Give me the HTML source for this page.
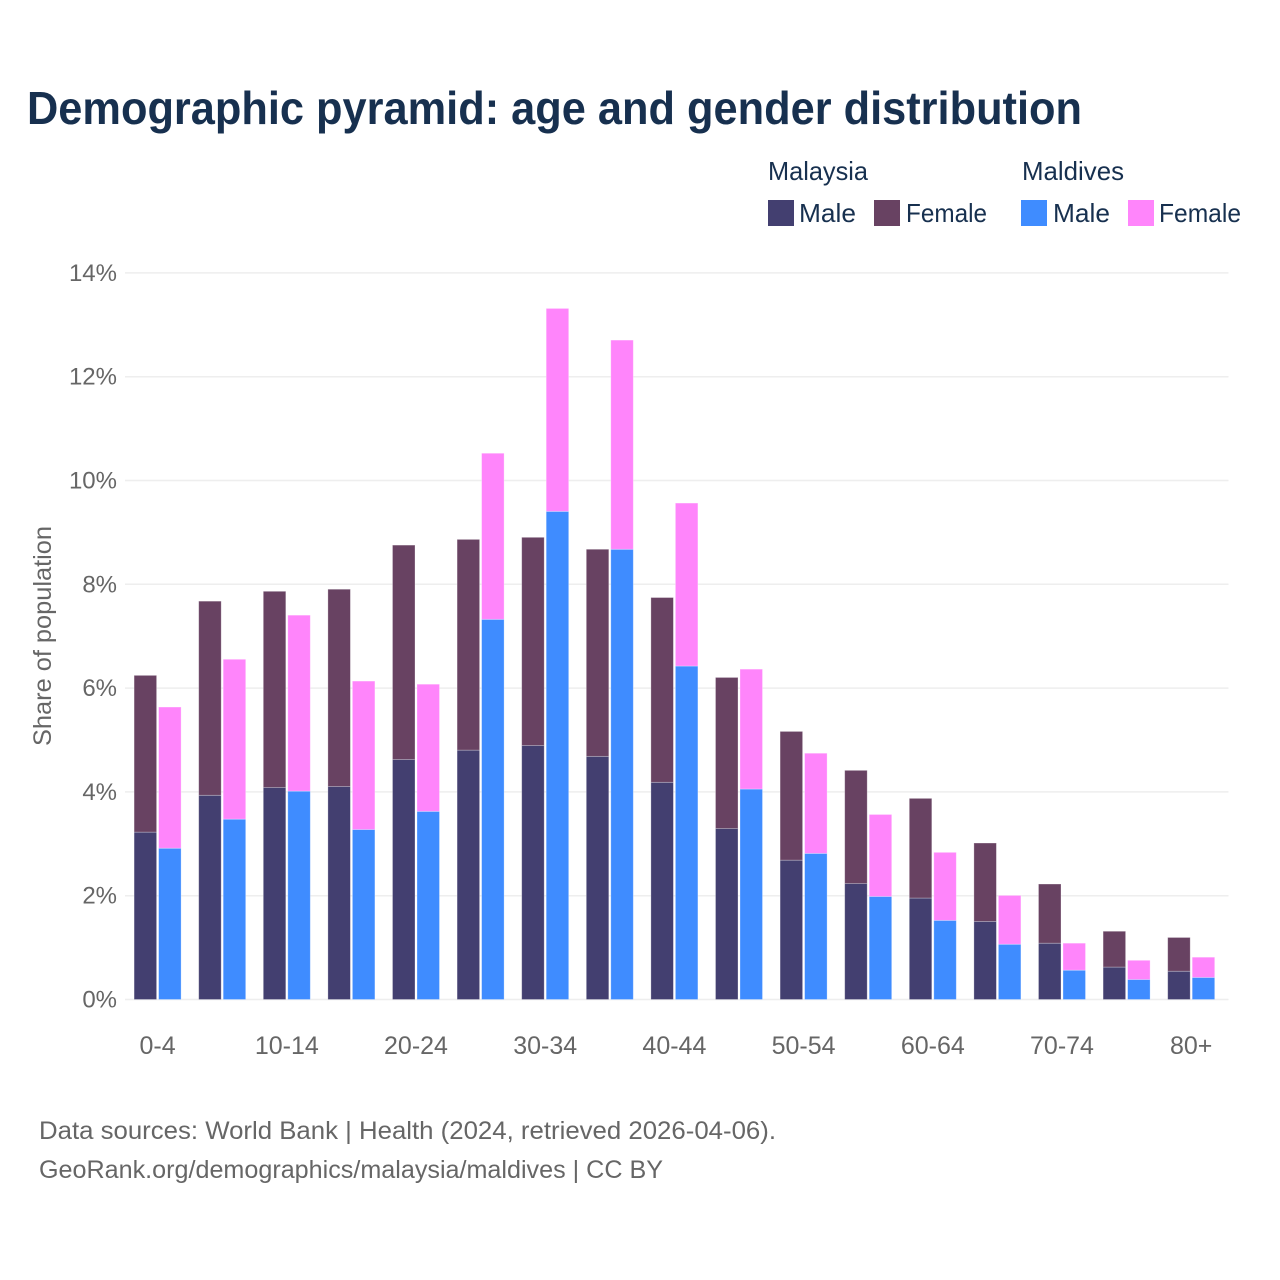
<!DOCTYPE html>
<html lang="en">
<head>
<meta charset="utf-8">
<title>Demographic pyramid: age and gender distribution</title>
<style>
  html, body { margin: 0; padding: 0; background: #ffffff; }
  svg { display: block; font-family: "Liberation Sans", sans-serif; }
</style>
</head>
<body>
<svg id="chart" xmlns="http://www.w3.org/2000/svg" width="1280" height="1280" viewBox="0 0 1280 1280">
  <rect x="0" y="0" width="1280" height="1280" fill="#ffffff"/>
  <text x="27" y="124" font-size="46" font-weight="700" fill="#17304f" textLength="1055" lengthAdjust="spacingAndGlyphs">Demographic pyramid: age and gender distribution</text>

  <g font-size="26" fill="#17304f">
    <text x="768" y="180" textLength="100" lengthAdjust="spacingAndGlyphs">Malaysia</text>
    <text x="1022" y="180" textLength="102" lengthAdjust="spacingAndGlyphs">Maldives</text>
    <rect x="768" y="200" width="26" height="26" fill="#433f70"/>
    <text x="799" y="222" textLength="57" lengthAdjust="spacingAndGlyphs">Male</text>
    <rect x="874" y="200" width="26" height="26" fill="#684262"/>
    <text x="906" y="222" textLength="81" lengthAdjust="spacingAndGlyphs">Female</text>
    <rect x="1021" y="200" width="26" height="26" fill="#3f8cff"/>
    <text x="1053" y="222" textLength="57" lengthAdjust="spacingAndGlyphs">Male</text>
    <rect x="1128" y="200" width="26" height="26" fill="#ff85fb"/>
    <text x="1159" y="222" textLength="82" lengthAdjust="spacingAndGlyphs">Female</text>
  </g>

  <g id="grid"></g>
  <g id="y-ticks"></g>
  <g id="bars"></g>
  <g id="x-ticks"></g>

  <text transform="translate(51 636) rotate(-90)" text-anchor="middle" font-size="25" fill="#666666" textLength="220" lengthAdjust="spacingAndGlyphs">Share of population</text>

  <text x="39" y="1139" font-size="25" fill="#666666" textLength="737" lengthAdjust="spacingAndGlyphs">Data sources: World Bank | Health (2024, retrieved 2026-04-06).</text>
  <text x="39" y="1178" font-size="25" fill="#666666" textLength="624" lengthAdjust="spacingAndGlyphs">GeoRank.org/demographics/malaysia/maldives | CC BY</text>
</svg>

<script>
const categories = ["0-4","5-9","10-14","15-19","20-24","25-29","30-34","35-39","40-44","45-49","50-54","55-59","60-64","65-69","70-74","75-79","80+"];
const xTickLabels = ["0-4","","10-14","","20-24","","30-34","","40-44","","50-54","","60-64","","70-74","","80+"];
const yTickValues = [0,2,4,6,8,10,12,14];
const malaysiaMale = [3.225,3.935,4.085,4.105,4.625,4.805,4.895,4.685,4.185,3.295,2.685,2.235,1.955,1.505,1.085,0.625,0.545];
const malaysiaFemale = [3.02,3.74,3.78,3.80,4.13,4.06,4.01,3.99,3.56,2.91,2.48,2.18,1.92,1.51,1.14,0.69,0.65];
const maldivesMale = [2.915,3.475,4.015,3.275,3.625,7.325,9.405,8.675,6.425,4.055,2.815,1.985,1.525,1.065,0.565,0.385,0.425];
const maldivesFemale = [2.72,3.08,3.39,2.86,2.45,3.20,3.91,4.03,3.14,2.31,1.93,1.58,1.31,0.94,0.52,0.37,0.39];

const SVG_NS = "http://www.w3.org/2000/svg";
const PLOT_LEFT = 125;
const PLOT_RIGHT = 1228.5;
const Y_ZERO = 999.5;
const Y_PX_PER_UNIT = 51.9;
const BAND_START = 125.3;
const BAND_STEP = 64.6;
const BAR_W = 22.5;
const BAR_GAP = 2;

function yScale(v) { return Y_ZERO - v * Y_PX_PER_UNIT; }
function xCenter(i) { return BAND_START + BAND_STEP * (i + 0.5); }

function makeRect(x, top, bottom, fill) {
  const r = document.createElementNS(SVG_NS, "rect");
  r.setAttribute("x", x);
  r.setAttribute("y", top);
  r.setAttribute("width", BAR_W);
  r.setAttribute("height", Math.max(0, bottom - top));
  r.setAttribute("fill", fill);
  r.setAttribute("stroke", "#ffffff");
  r.setAttribute("stroke-opacity", "0.35");
  r.setAttribute("stroke-width", "0.8");
  return r;
}

const gridGroup = document.getElementById("grid");
const yTickGroup = document.getElementById("y-ticks");
const barGroup = document.getElementById("bars");
const xTickGroup = document.getElementById("x-ticks");

yTickValues.forEach(function (v) {
  const line = document.createElementNS(SVG_NS, "line");
  line.setAttribute("x1", PLOT_LEFT);
  line.setAttribute("x2", PLOT_RIGHT);
  line.setAttribute("y1", yScale(v));
  line.setAttribute("y2", yScale(v));
  line.setAttribute("stroke", "#eeeeee");
  line.setAttribute("stroke-width", "1.5");
  
  
  gridGroup.appendChild(line);

  const label = document.createElementNS(SVG_NS, "text");
  label.setAttribute("x", 117);
  label.setAttribute("y", yScale(v) + 8);
  label.setAttribute("text-anchor", "end");
  label.setAttribute("font-size", "24");
  label.setAttribute("fill", "#666666");
  label.textContent = v + "%";
  
  
  yTickGroup.appendChild(label);
});

categories.forEach(function (cat, i) {
  const c = xCenter(i);
  const leftX = c - BAR_GAP / 2 - BAR_W;
  const rightX = c + BAR_GAP / 2;

  const myMaleBar = makeRect(leftX, yScale(malaysiaMale[i]), yScale(0), "#433f70");
  
  
  barGroup.appendChild(myMaleBar);

  const myFemaleBar = makeRect(leftX, yScale(malaysiaMale[i] + malaysiaFemale[i]), yScale(malaysiaMale[i]), "#684262");
  
  
  barGroup.appendChild(myFemaleBar);

  const mvMaleBar = makeRect(rightX, yScale(maldivesMale[i]), yScale(0), "#3f8cff");
  
  
  barGroup.appendChild(mvMaleBar);

  const mvFemaleBar = makeRect(rightX, yScale(maldivesMale[i] + maldivesFemale[i]), yScale(maldivesMale[i]), "#ff85fb");
  
  
  barGroup.appendChild(mvFemaleBar);

  if (xTickLabels[i]) {
    const tick = document.createElementNS(SVG_NS, "text");
    tick.setAttribute("x", c);
    tick.setAttribute("y", 1054);
    tick.setAttribute("text-anchor", "middle");
    tick.setAttribute("font-size", "25");
    tick.setAttribute("fill", "#666666");
    tick.textContent = xTickLabels[i];
    
    
    xTickGroup.appendChild(tick);
  }
});
</script>
</body>
</html>
